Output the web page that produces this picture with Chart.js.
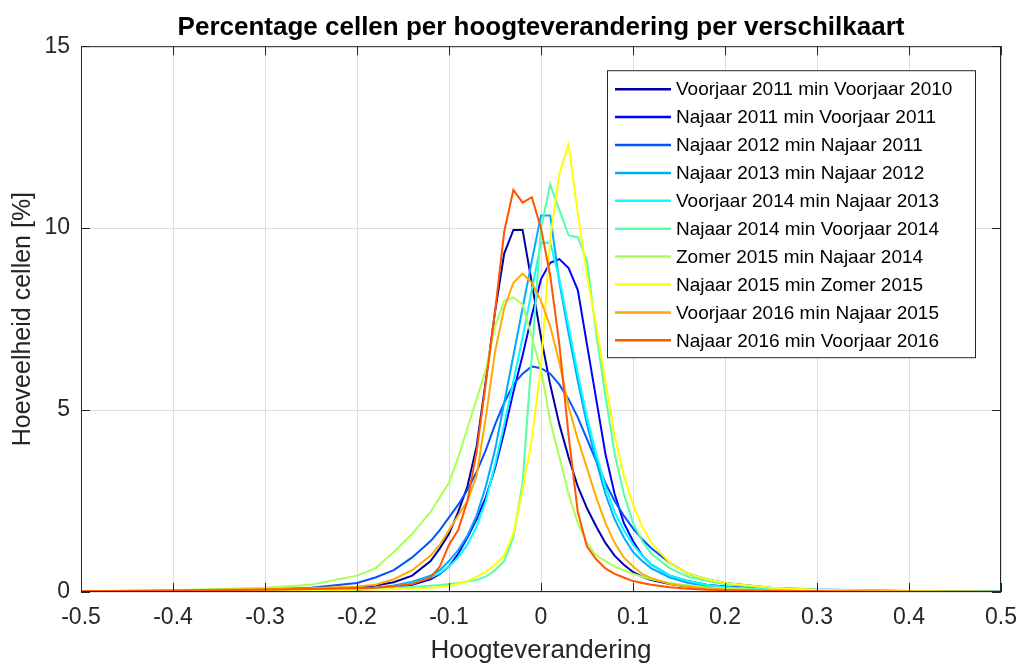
<!DOCTYPE html>
<html>
<head>
<meta charset="utf-8">
<script src="https://cdn.jsdelivr.net/npm/chart.js@4.4.0/dist/chart.umd.min.js"></script>
<style>
  html, body { margin: 0; padding: 0; background: #fff; }
  #wrap { width: 1017px; height: 666px; }
</style>
</head>
<body>
<div id="wrap"><canvas id="histChart" width="1017" height="666"></canvas></div>
<script>
// bin centres (Hoogteverandering)
const binCenters = [-0.5, -0.4, -0.3, -0.25, -0.2, -0.18, -0.16, -0.14, -0.12,
  -0.11, -0.1, -0.09, -0.08, -0.07, -0.06, -0.05, -0.04, -0.03, -0.02, -0.01, 0,
  0.01, 0.02, 0.03, 0.04, 0.05, 0.06, 0.07, 0.08, 0.09, 0.1, 0.11,
  0.12, 0.14, 0.16, 0.18, 0.2, 0.25, 0.3, 0.4, 0.5];

const xTicks = [-0.5, -0.4, -0.3, -0.2, -0.1, 0, 0.1, 0.2, 0.3, 0.4, 0.5];
const yTicks = [0, 5, 10, 15];

const seriesNames = [
  'Voorjaar 2011 min Voorjaar 2010',
  'Najaar 2011 min Voorjaar 2011',
  'Najaar 2012 min Najaar 2011',
  'Najaar 2013 min Najaar 2012',
  'Voorjaar 2014 min Najaar 2013',
  'Najaar 2014 min Voorjaar 2014',
  'Zomer 2015 min Najaar 2014',
  'Najaar 2015 min Zomer 2015',
  'Voorjaar 2016 min Najaar 2015',
  'Najaar 2016 min Voorjaar 2016'
];

// percentage cells per bin
const vj2011 = [0.01, 0.02, 0.04, 0.06, 0.12, 0.18, 0.27, 0.45, 0.85,
  1.2, 1.6, 2.2, 2.9, 4.0, 5.8, 7.7, 9.3, 9.95, 9.95, 8.5, 7.0,
  5.7, 4.6, 3.7, 2.9, 2.3, 1.8, 1.35, 1.0, 0.75, 0.55, 0.42,
  0.33, 0.22, 0.15, 0.1, 0.07, 0.04, 0.02, 0.01, 0.01];
const nj2011 = [0.0, 0.01, 0.02, 0.03, 0.06, 0.08, 0.12, 0.2, 0.35,
  0.5, 0.7, 1.05, 1.5, 2.0, 2.6, 3.4, 4.4, 5.5, 6.5, 7.6, 8.6,
  9.05, 9.15, 8.9, 8.3, 6.8, 5.3, 3.8, 2.7, 1.9, 1.4, 1.0,
  0.75, 0.45, 0.3, 0.2, 0.15, 0.08, 0.04, 0.02, 0.01];
const nj2012 = [0.01, 0.03, 0.07, 0.12, 0.25, 0.4, 0.6, 0.95, 1.4,
  1.7, 2.05, 2.4, 2.8, 3.3, 3.9, 4.6, 5.2, 5.7, 6.0, 6.2, 6.15,
  6.0, 5.7, 5.3, 4.8, 4.2, 3.6, 3.0, 2.5, 2.1, 1.75, 1.45,
  1.2, 0.8, 0.5, 0.35, 0.25, 0.12, 0.07, 0.03, 0.01];
const nj2013 = [0.0, 0.01, 0.02, 0.04, 0.08, 0.12, 0.18, 0.28, 0.45,
  0.6, 0.85, 1.15, 1.55, 2.1, 2.9, 3.9, 5.2, 6.5, 7.8, 9.1, 10.35,
  10.35, 8.5, 7.1, 5.8, 4.6, 3.6, 2.7, 2.0, 1.5, 1.1, 0.85,
  0.65, 0.4, 0.25, 0.17, 0.12, 0.06, 0.03, 0.01, 0.0];
const vj2014 = [0.0, 0.01, 0.02, 0.03, 0.07, 0.1, 0.15, 0.24, 0.4,
  0.52, 0.7, 0.95, 1.3, 1.8, 2.5, 3.5, 4.6, 5.8, 7.0, 8.3, 9.6,
  9.6, 8.6, 7.3, 6.0, 4.8, 3.8, 2.9, 2.2, 1.7, 1.3, 1.0,
  0.75, 0.45, 0.3, 0.2, 0.14, 0.07, 0.04, 0.01, 0.0];
const nj2014 = [0.01, 0.02, 0.04, 0.05, 0.08, 0.1, 0.12, 0.14, 0.17,
  0.19, 0.22, 0.25, 0.29, 0.33, 0.42, 0.6, 0.85, 1.5, 3.0, 6.5, 10.0,
  11.2, 10.5, 9.8, 9.75, 9.1, 7.1, 5.4, 3.8, 2.7, 1.9, 1.4,
  1.05, 0.65, 0.42, 0.3, 0.22, 0.11, 0.06, 0.02, 0.01];
const zo2015 = [0.02, 0.05, 0.12, 0.2, 0.45, 0.65, 1.1, 1.6, 2.2,
  2.6, 3.0, 3.7, 4.5, 5.3, 6.1, 7.3, 8.0, 8.1, 7.9, 7.0, 6.1,
  4.7, 3.7, 2.7, 1.9, 1.35, 1.0, 0.85, 0.7, 0.6, 0.5, 0.42,
  0.35, 0.25, 0.18, 0.13, 0.1, 0.05, 0.03, 0.01, 0.0];
const nj2015 = [0.0, 0.01, 0.02, 0.03, 0.06, 0.07, 0.08, 0.1, 0.12,
  0.14, 0.17, 0.22, 0.3, 0.42, 0.55, 0.75, 1.0, 1.6, 2.8, 4.2, 6.2,
  9.7, 11.5, 12.3, 10.4, 8.7, 7.3, 5.8, 4.3, 3.2, 2.4, 1.8,
  1.35, 0.8, 0.5, 0.35, 0.25, 0.12, 0.06, 0.02, 0.01];
const vj2016 = [0.02, 0.04, 0.08, 0.1, 0.15, 0.2, 0.35, 0.6, 1.0,
  1.3, 1.7, 2.1, 2.5, 3.2, 4.8, 6.6, 7.8, 8.5, 8.75, 8.5, 8.0,
  7.3, 6.3, 5.1, 4.2, 3.4, 2.6, 1.9, 1.35, 0.95, 0.7, 0.5,
  0.38, 0.22, 0.15, 0.1, 0.07, 0.04, 0.02, 0.01, 0.0];
const nj2016 = [0.02, 0.04, 0.06, 0.08, 0.1, 0.12, 0.16, 0.22, 0.4,
  0.7, 1.3, 1.7, 2.5, 3.85, 5.75, 7.7, 9.9, 11.05, 10.7, 10.85, 10.0,
  8.7, 6.8, 4.3, 2.2, 1.25, 0.9, 0.65, 0.5, 0.4, 0.3, 0.25,
  0.2, 0.13, 0.09, 0.06, 0.05, 0.03, 0.02, 0.01, 0.0];

const seriesValues = [vj2011, nj2011, nj2012, nj2013, vj2014, nj2014, zo2015, nj2015, vj2016, nj2016];

// jet(10) colours
const lineColors = ['#0000aa', '#0000ff', '#0055ff', '#00aaff', '#00ffff',
  '#55ffaa', '#aaff55', '#ffff00', '#ffaa00', '#ff5500'];

const FONT = '"Liberation Sans", Arial, sans-serif';
const AXIS_COLOR = '#262626';

// box, inward ticks and legend in the MATLAB style
const matlabFrame = {
  id: 'matlabFrame',
  afterDatasetsDraw(chart) {
    const { ctx, chartArea: a, scales: { x, y } } = chart;
    ctx.save();
    ctx.strokeStyle = AXIS_COLOR;
    ctx.lineWidth = 1;
    ctx.strokeRect(a.left + 0.5, a.top + 0.5, a.width - 1, a.height - 1);
    const tl = 9;
    ctx.beginPath();
    x.ticks.forEach(t => {
      const px = Math.round(x.getPixelForValue(t.value)) + 0.5;
      ctx.moveTo(px, a.bottom); ctx.lineTo(px, a.bottom - tl);
      ctx.moveTo(px, a.top); ctx.lineTo(px, a.top + tl);
    });
    y.ticks.forEach(t => {
      const py = Math.round(y.getPixelForValue(t.value)) + 0.5;
      ctx.moveTo(a.left, py); ctx.lineTo(a.left + tl, py);
      ctx.moveTo(a.right, py); ctx.lineTo(a.right - tl, py);
    });
    ctx.stroke();

    // legend
    const boxR = a.right - 26, boxT = a.top + 24;
    const boxW = 368, rowH = 27.9;
    const sets = chart.data.datasets;
    const boxH = sets.length * rowH + 8;
    const boxL = boxR - boxW;
    ctx.fillStyle = '#fff';
    ctx.fillRect(boxL, boxT, boxW, boxH);
    ctx.strokeStyle = AXIS_COLOR;
    ctx.strokeRect(boxL + 0.5, boxT + 0.5, boxW, boxH);
    ctx.font = '19px ' + FONT;
    ctx.textBaseline = 'middle';
    ctx.textAlign = 'left';
    sets.forEach((ds, i) => {
      const cy = boxT + 19 + i * rowH;
      ctx.strokeStyle = ds.borderColor;
      ctx.lineWidth = 2.5;
      ctx.beginPath();
      ctx.moveTo(boxL + 8, cy); ctx.lineTo(boxL + 64, cy);
      ctx.stroke();
      ctx.fillStyle = '#000';
      ctx.fillText(ds.label, boxL + 69, cy + 1);
    });
    ctx.restore();
  }
};

const histChart = new Chart(document.getElementById('histChart'), {
  type: 'line',
  data: {
    datasets: seriesValues.map((vals, i) => ({
      label: seriesNames[i],
      data: vals.map((v, j) => ({ x: binCenters[j], y: v })),
      borderColor: lineColors[i],
      backgroundColor: lineColors[i],
      borderWidth: 2,
      pointRadius: 0,
      tension: 0,
      fill: false,
      order: seriesValues.length - i
    }))
  },
  options: {
    responsive: false,
    animation: false,
    layout: { padding: { left: 0, right: 16, top: 0, bottom: 0 } },
    plugins: {
      legend: { display: false },
      tooltip: { enabled: false },
      title: {
        display: true,
        fullSize: false,
        text: 'Percentage cellen per hoogteverandering per verschilkaart',
        color: '#000',
        font: { family: FONT, size: 26, weight: 'bold', lineHeight: 1.2 },
        padding: { top: 12, bottom: 3 }
      }
    },
    scales: {
      x: {
        type: 'linear',
        min: -0.5,
        max: 0.5,
        afterBuildTicks: s => { s.ticks = xTicks.map(v => ({ value: v })); },
        afterFit: s => { s.height = 74; s.paddingLeft = 0; s.paddingRight = 0; },
        grid: { color: '#dedede', drawTicks: false },
        border: { display: false },
        ticks: {
          color: AXIS_COLOR,
          padding: 12,
          font: { family: FONT, size: 23 },
          callback: v => (Math.abs(v) < 1e-9 ? '0' : v.toFixed(1))
        },
        title: {
          display: true,
          text: 'Hoogteverandering',
          color: AXIS_COLOR,
          font: { family: FONT, size: 26 },
          padding: { top: 0, bottom: 0 }
        }
      },
      y: {
        min: 0,
        max: 15,
        afterBuildTicks: s => { s.ticks = yTicks.map(v => ({ value: v })); },
        afterFit: s => { s.width = 81; s.paddingTop = 0; s.paddingBottom = 0; },
        grid: { color: '#dedede', drawTicks: false },
        border: { display: false },
        ticks: {
          color: AXIS_COLOR,
          padding: 11,
          font: { family: FONT, size: 23 }
        },
        title: {
          display: true,
          text: 'Hoeveelheid cellen [%]',
          color: AXIS_COLOR,
          font: { family: FONT, size: 25 },
          padding: { top: 8, bottom: 0 }
        }
      }
    }
  },
  plugins: [matlabFrame]
});
</script>
</body>
</html>
